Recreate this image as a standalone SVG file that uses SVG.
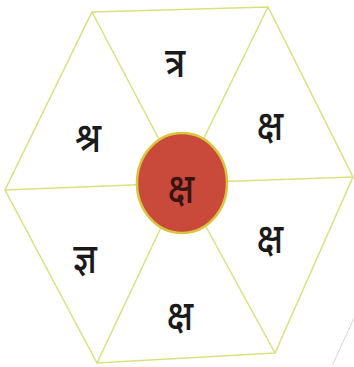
<svg xmlns="http://www.w3.org/2000/svg" width="354" height="367" viewBox="0 0 354 367">
<style>
.edge{stroke:#d9e17e;stroke-width:1.5;fill:none}
.lbl{font-family:"Noto Sans","Noto Sans CJK SC",sans-serif;font-size:42px;font-weight:500;fill:#1a1a1a;text-anchor:middle;dominant-baseline:central}
</style>
<rect width="354" height="367" fill="#ffffff"/>
<g id="connectors">
<polygon class="edge" points="92,12 268,7 353,177 275,353 97,363 5,190"/>
<line class="edge" x1="92" y1="12" x2="182" y2="183"/>
<line class="edge" x1="268" y1="7" x2="182" y2="183"/>
<line class="edge" x1="353" y1="177" x2="182" y2="183"/>
<line class="edge" x1="275" y1="353" x2="182" y2="183"/>
<line class="edge" x1="97" y1="363" x2="182" y2="183"/>
<line class="edge" x1="5" y1="190" x2="182" y2="183"/>
<line x1="333" y1="364" x2="354" y2="318" stroke="#d4d4d4" stroke-width="1"/>
</g>
<g id="center">
<ellipse cx="182" cy="183" rx="45" ry="50" fill="#c94a3b" stroke="#d9c43c" stroke-width="2.5"/>
<text class="lbl" x="0" y="0" transform="translate(181,186) scale(0.85,1)" style="fill:#3a1410">क्ष</text>
</g>
<g id="top"><text class="lbl" transform="translate(175,60) scale(0.85,1)">त्र</text></g>
<g id="upper-right"><text class="lbl" transform="translate(270,123) scale(0.85,1)">क्ष</text></g>
<g id="lower-right"><text class="lbl" transform="translate(270,236) scale(0.85,1)">क्ष</text></g>
<g id="bottom"><text class="lbl" transform="translate(180,313) scale(0.85,1)">क्ष</text></g>
<g id="lower-left"><text class="lbl" transform="translate(85,256) scale(0.85,1)">ज्ञ</text></g>
<g id="upper-left"><text class="lbl" transform="translate(88,135) scale(0.85,1)">श्र</text></g>
</svg>
